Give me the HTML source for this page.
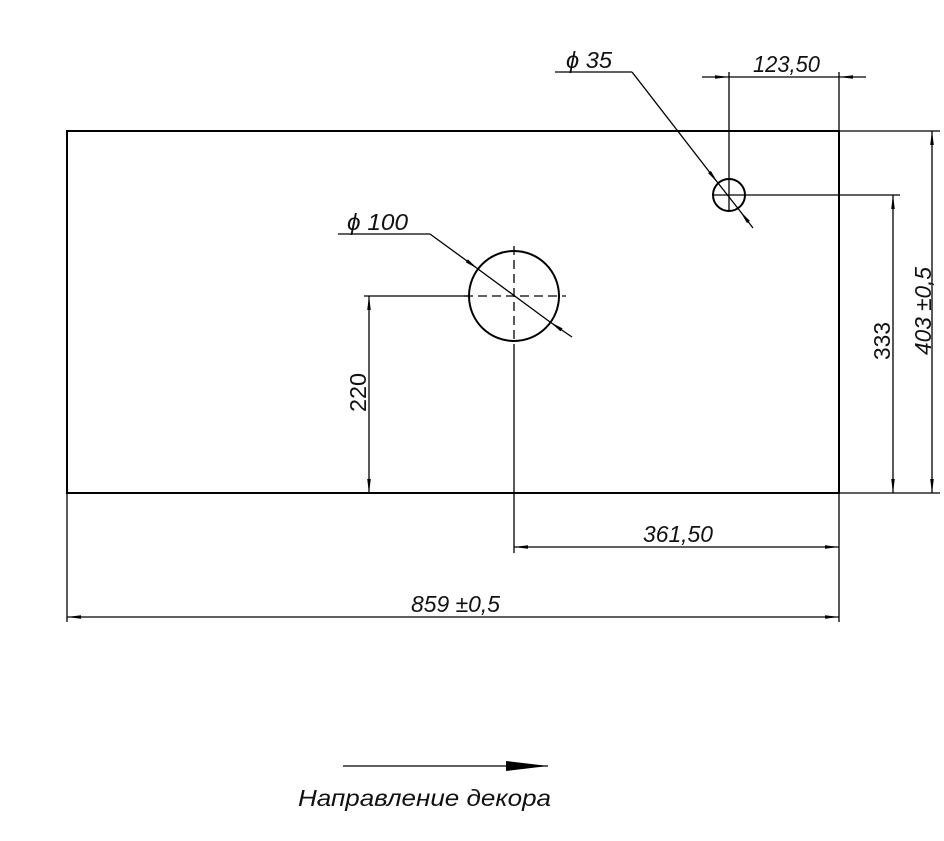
<!DOCTYPE html>
<html><head><meta charset="utf-8"><style>
html,body{margin:0;padding:0;background:#fff;width:944px;height:841px;overflow:hidden}
svg text{font-family:"Liberation Sans",sans-serif;font-size:23px;fill:#111}
</style></head><body>
<svg width="944" height="841" viewBox="0 0 944 841" xmlns="http://www.w3.org/2000/svg">
<defs>
<marker id="a" markerWidth="14" markerHeight="6" refX="14" refY="3" orient="auto" markerUnits="userSpaceOnUse">
<path d="M0,1.2 L14,3 L0,4.8 Z" fill="#000"/></marker>
</defs>
<g stroke="#000" fill="none">
<rect x="67" y="131" width="772" height="362" stroke-width="2"/>
<circle cx="514" cy="296" r="45" stroke-width="2"/>
<circle cx="729" cy="195" r="16" stroke-width="2"/>
<g stroke-width="1.3">
<line x1="464" y1="296" x2="566" y2="296" stroke-dasharray="9,5"/>
<line x1="514" y1="246" x2="514" y2="345" stroke-dasharray="9,5"/>
<line x1="514" y1="345" x2="514" y2="553"/>
<line x1="729" y1="72" x2="729" y2="212"/>
<line x1="839" y1="72" x2="839" y2="131"/>
<line x1="702" y1="77" x2="729" y2="77" marker-end="url(#a)"/>
<line x1="729" y1="77" x2="839" y2="77"/>
<line x1="866" y1="77" x2="839" y2="77" marker-end="url(#a)"/>
<line x1="839" y1="131" x2="940" y2="131"/>
<line x1="712" y1="195" x2="900" y2="195"/>
<line x1="839" y1="493" x2="940" y2="493"/>
<line x1="893" y1="344" x2="893" y2="195" marker-end="url(#a)"/>
<line x1="893" y1="344" x2="893" y2="493" marker-end="url(#a)"/>
<line x1="932" y1="312" x2="932" y2="131" marker-end="url(#a)"/>
<line x1="932" y1="312" x2="932" y2="493" marker-end="url(#a)"/>
<line x1="364" y1="296" x2="469" y2="296"/>
<line x1="369" y1="394" x2="369" y2="296" marker-end="url(#a)"/>
<line x1="369" y1="394" x2="369" y2="493" marker-end="url(#a)"/>
<line x1="839" y1="493" x2="839" y2="622"/>
<line x1="67" y1="493" x2="67" y2="622"/>
<line x1="676" y1="547" x2="514" y2="547" marker-end="url(#a)"/>
<line x1="676" y1="547" x2="839" y2="547" marker-end="url(#a)"/>
<line x1="453" y1="617" x2="67" y2="617" marker-end="url(#a)"/>
<line x1="453" y1="617" x2="839" y2="617" marker-end="url(#a)"/>
<polyline points="338,234 430,234"/>
<line x1="430" y1="234" x2="478" y2="269" marker-end="url(#a)"/>
<line x1="572" y1="337" x2="550" y2="322" marker-end="url(#a)"/>
<line x1="478" y1="269" x2="550" y2="322"/>
<polyline points="555,72 632,72"/>
<line x1="632" y1="72" x2="718" y2="183" marker-end="url(#a)"/>
<line x1="753" y1="228" x2="740" y2="211" marker-end="url(#a)"/>
<line x1="718" y1="183" x2="740" y2="211"/>
<line x1="343" y1="766" x2="548" y2="766"/>
</g>
</g>
<path d="M506,761 L548,766 L506,771 Z" fill="#000"/>
<text x="566" y="68" font-style="italic" textLength="46" lengthAdjust="spacingAndGlyphs">ϕ 35</text>
<text x="753" y="72" font-style="italic" textLength="67" lengthAdjust="spacingAndGlyphs">123,50</text>
<text x="347" y="230" font-style="italic" textLength="61" lengthAdjust="spacingAndGlyphs">ϕ 100</text>
<text x="643" y="542" font-style="italic" textLength="70" lengthAdjust="spacingAndGlyphs">361,50</text>
<text x="411" y="612" font-style="italic" textLength="89" lengthAdjust="spacingAndGlyphs">859 ±0,5</text>
<text transform="translate(366,412) rotate(-90)" textLength="39" lengthAdjust="spacingAndGlyphs">220</text>
<text transform="translate(890,360) rotate(-90)" textLength="38" lengthAdjust="spacingAndGlyphs">333</text>
<text transform="translate(931,355) rotate(-90)" font-style="italic" textLength="88" lengthAdjust="spacingAndGlyphs">403 ±0,5</text>
<text x="298" y="806" font-style="italic" style="font-size:23px" textLength="253" lengthAdjust="spacingAndGlyphs">Направление декора</text>
</svg>
</body></html>
